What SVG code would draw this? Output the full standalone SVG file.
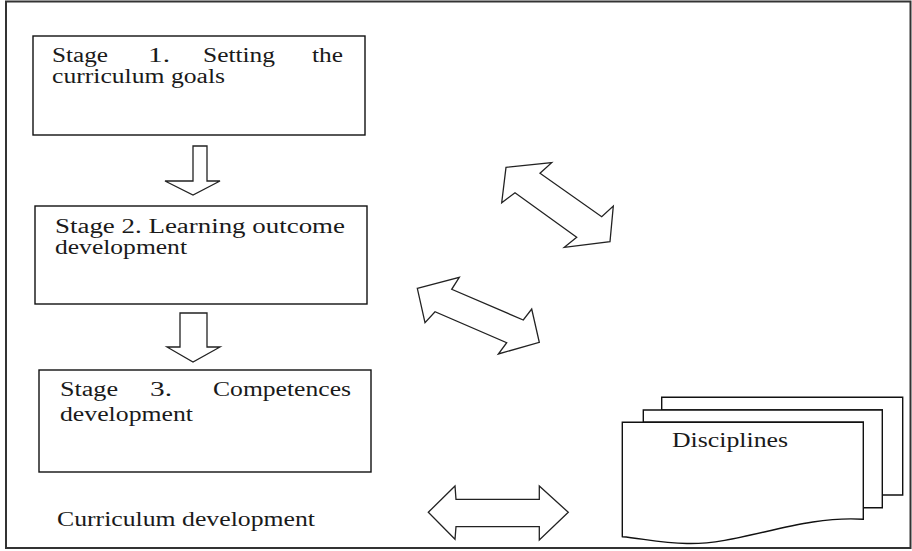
<svg xmlns="http://www.w3.org/2000/svg" width="912" height="551" viewBox="0 0 912 551">
<style>
.t{font-family:"Liberation Serif","Times New Roman",serif;font-size:20px;fill:#1a1a1a}
.b{fill:#fff;stroke:#111;stroke-width:1.4}
.a{fill:#fff;stroke:#222;stroke-width:1.3;stroke-linejoin:miter}
</style>
<rect x="0" y="0" width="912" height="551" fill="#fff"/>
<rect x="6" y="1.5" width="904.5" height="546.5" fill="none" stroke="#333" stroke-width="2"/>
<g id="stage1">
<rect class="b" x="33" y="36" width="332" height="99"/>
<text class="t" y="62" x="52" textLength="56" lengthAdjust="spacingAndGlyphs">Stage</text>
<text class="t" y="62" x="148" textLength="22" lengthAdjust="spacingAndGlyphs">1.</text>
<text class="t" y="62" x="203" textLength="72" lengthAdjust="spacingAndGlyphs">Setting</text>
<text class="t" y="62" x="312" textLength="31" lengthAdjust="spacingAndGlyphs">the</text>
<text class="t" y="83" x="52" textLength="173" lengthAdjust="spacingAndGlyphs">curriculum goals</text>
</g>
<g id="stage2">
<rect class="b" x="35" y="206" width="332" height="98"/>
<text class="t" y="233" x="55" textLength="290" lengthAdjust="spacingAndGlyphs">Stage 2. Learning outcome</text>
<text class="t" y="254" x="55" textLength="132" lengthAdjust="spacingAndGlyphs">development</text>
</g>
<g id="stage3">
<rect class="b" x="39" y="370" width="332" height="102"/>
<text class="t" y="396" x="60" textLength="58" lengthAdjust="spacingAndGlyphs">Stage</text>
<text class="t" y="396" x="150" textLength="22" lengthAdjust="spacingAndGlyphs">3.</text>
<text class="t" y="396" x="213" textLength="138" lengthAdjust="spacingAndGlyphs">Competences</text>
<text class="t" y="421" x="60" textLength="133" lengthAdjust="spacingAndGlyphs">development</text>
</g>
<g id="curriculum-label">
<text class="t" y="526" x="57" textLength="258" lengthAdjust="spacingAndGlyphs">Curriculum development</text>
</g>
<g id="disciplines">
<path class="b" d="M661.7,397.3 H902.7 V495 H882.3 V410 H661.7 Z"/>
<path class="b" d="M643.3,410 H882.3 V507.7 H863.3 V422.3 H643.3 Z"/>
<path class="b" d="M622.3,422.3 H863.3 V519.3 C800,515 740,545 687,543.5 C660,543 640,538 622.3,536.7 Z"/>
<text class="t" y="446.7" x="672" textLength="116" lengthAdjust="spacingAndGlyphs">Disciplines</text>
</g>
<g id="connectors">
<polygon class="a" points="193,146 207,146 207,181 220,181 193,195 165,181 193,181"/>
<polygon class="a" points="180,313 207,313 207,347 220,347 193,362 167,347 180,347"/>
<polygon class="a" points="506,167.3 551.7,162.7 540,173.3 601.7,216.7 613.3,206 610,241.7 564.3,247.3 576.7,237.3 515,192.7 501.7,202.7"/>
<polygon class="a" points="417.3,288.3 459.3,277.3 451.7,289.3 523.3,320 531.7,309 539.3,342.3 498.3,354 506.7,342.7 435,311.7 425,322.7"/>
<polygon class="a" points="428.3,512.3 455,486 456,499.3 539.3,499.3 539.3,486 568.3,512.3 539.3,540 539.3,526.7 456,526.7 455,539.3"/>
</g>
</svg>
